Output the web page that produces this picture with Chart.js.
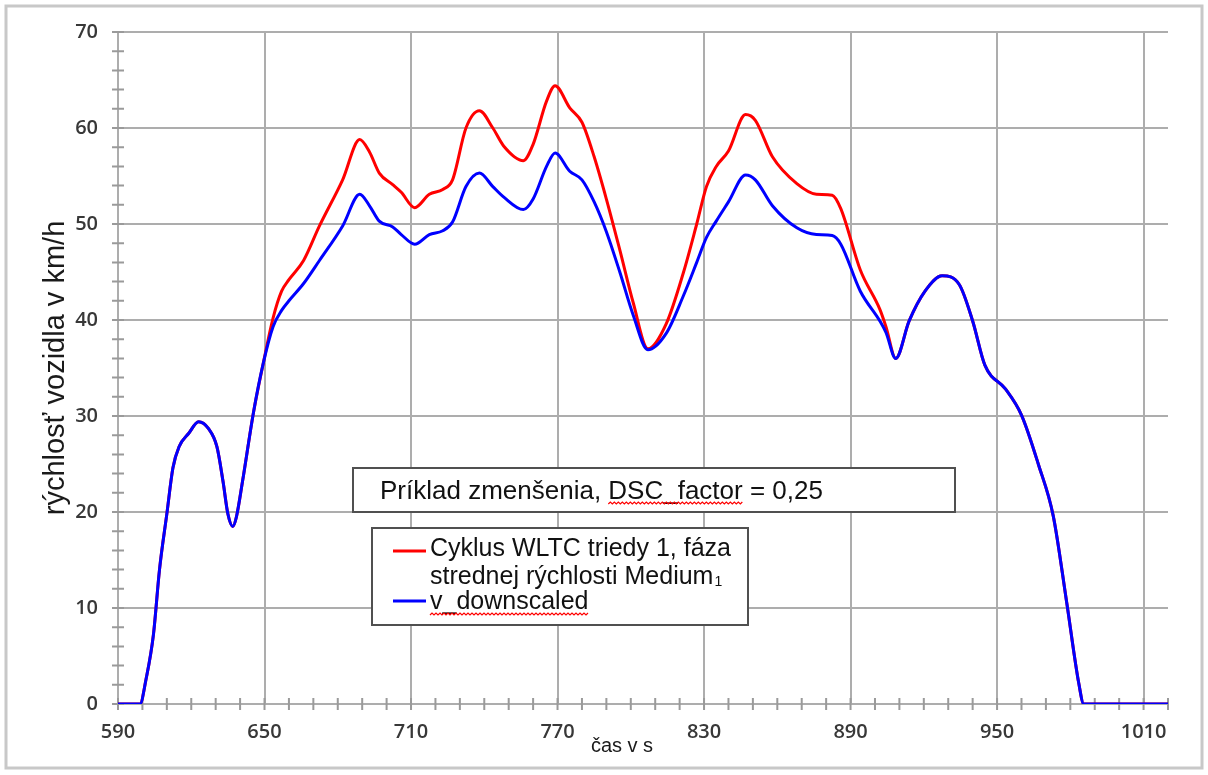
<!DOCTYPE html>
<html>
<head>
<meta charset="utf-8">
<script src="https://cdn.jsdelivr.net/npm/chart.js@4.4.1/dist/chart.umd.min.js"></script>
<style>
  html, body { margin: 0; padding: 0; background: #fff; }
  #wrap { width: 1208px; height: 775px; }
</style>
</head>
<body>
<div id="wrap"><canvas id="speedChart" width="1208" height="775"></canvas></div>
<script>
// time in s
var times = [590, 599, 601.5, 604.5, 607, 610, 612.5, 615, 619, 623, 627, 630.5, 633, 635, 637, 638.5, 641, 645.5, 649.5,
  653.5, 657, 660, 666, 672.5, 682, 689, 693, 697, 702.5, 706, 711.5, 717.5, 723, 727, 732.5, 738, 743.5, 748, 756, 760,
  765.5, 769, 775, 780, 785, 790, 795.5, 801, 807, 814.5, 821.5, 827, 831, 835, 840, 847, 851, 858, 868, 876, 882.5, 886,
  894, 902, 904.5, 908.5, 914, 920.5, 927.5, 934.5, 940, 945, 953.5, 960, 967, 973, 978.5, 983.5, 985.5, 1020];

// WLTC class 1, medium phase (km/h)
var speedWltc = [0, 0, 2.6, 7.2, 14, 19.8, 24.6, 26.8, 28.2, 29.4, 28.7, 26.8, 23.2, 19.8, 18.5, 19.5, 23.2, 30.4, 35.5,
  40.2, 43, 44.2, 46.2, 49.8, 54.6, 58.8, 57.5, 55.3, 54.1, 53.3, 51.7, 53.1, 53.6, 54.6, 60, 61.8, 60, 58.1, 56.6, 58.3,
  62.8, 64.4, 62.1, 60.6, 57, 52.6, 47.3, 41.8, 37, 39.6, 44.9, 50, 53.9, 56, 57.6, 61.4, 60.8, 57, 54.2, 53.1, 53, 51.6,
  45.2, 41.1, 39.3, 36, 39.9, 43, 44.6, 43.7, 39.9, 35.3, 32.8, 30.1, 24.9, 19.6, 10.6, 2.1, 0, 0];

// v_downscaled (km/h)
var speedDownscaled = [0, 0, 2.6, 7.2, 14, 19.8, 24.6, 26.8, 28.2, 29.4, 28.7, 26.8, 23.2, 19.8, 18.5, 19.5, 23.2, 30.4, 35.5,
  39.3, 41, 42, 43.8, 46.2, 49.8, 53.1, 51.9, 50.3, 49.7, 48.9, 47.9, 48.9, 49.3, 50.2, 53.9, 55.3, 53.9, 52.8, 51.5, 52.6,
  56, 57.4, 55.5, 54.6, 52.3, 49.2, 45, 40.5, 36.9, 38.6, 42.5, 46, 48.6, 50.3, 52.3, 55.1, 54.6, 51.9, 49.6, 48.9, 48.8, 47.9,
  43, 39.9, 38.7, 36, 39.9, 43, 44.6, 43.7, 39.9, 35.3, 32.8, 30.1, 24.9, 19.6, 10.6, 2.1, 0, 0];

var xTickLabels = [590, 650, 710, 770, 830, 890, 950, 1010];
var yTickLabels = [0, 10, 20, 30, 40, 50, 60, 70];

var labelWltc = ['Cyklus WLTC triedy 1, fáza', 'strednej rýchlosti Medium'];
var labelDown = 'v_downscaled';
var boxTitle = 'Príklad zmenšenia, DSC_factor = 0,25';
var xTitle = 'čas v s';
var yTitle = 'rýchlosť vozidla v km/h';

var RED = 'rgb(255, 0, 0)';
var BLUE = 'rgb(0, 0, 255)';
var GRID = '#adadad';
var TEXT_FONT = '"Liberation Sans", Arial, sans-serif';

function toPoints(vals) {
  return times.map(function (t, i) { return { x: t, y: vals[i] }; });
}

function wavy(ctx, x1, x2, y) {
  ctx.save();
  ctx.strokeStyle = RED;
  ctx.lineWidth = 1.2;
  ctx.beginPath();
  ctx.moveTo(x1, y);
  var up = true;
  for (var x = x1 + 2; x <= x2; x += 2) {
    ctx.lineTo(x, up ? y - 2 : y);
    up = !up;
  }
  ctx.stroke();
  ctx.restore();
}

var decor = {
  id: 'decor',
  beforeDraw: function (chart) {
    var ctx = chart.ctx;
    ctx.save();
    ctx.fillStyle = '#fff';
    ctx.fillRect(0, 0, chart.width, chart.height);
    ctx.strokeStyle = '#c8c8c8';
    ctx.lineWidth = 3;
    ctx.strokeRect(6, 6, 1196, 762);
    ctx.restore();
  },
  beforeDatasetsDraw: function (chart) {
    // small tick marks crossing the axes
    var ctx = chart.ctx, xs = chart.scales.x, ys = chart.scales.y;
    var a = chart.chartArea;
    ctx.save();
    ctx.strokeStyle = '#9a9a9a';
    ctx.lineWidth = 2;
    ctx.beginPath();
    for (var v = 0; v <= 70; v += 2) {
      var py = ys.getPixelForValue(v);
      ctx.moveTo(a.left - 6, py);
      ctx.lineTo(a.left + 6, py);
    }
    for (var t = 590; t <= 1020; t += 10) {
      var px = xs.getPixelForValue(t);
      ctx.moveTo(px, a.bottom - 6);
      ctx.lineTo(px, a.bottom + 6);
    }
    ctx.stroke();
    ctx.restore();
  },
  afterDraw: function (chart) {
    var ctx = chart.ctx;
    ctx.save();

    // axis titles
    ctx.fillStyle = '#1a1a1a';
    ctx.textAlign = 'center';
    ctx.textBaseline = 'middle';
    ctx.font = '29px ' + TEXT_FONT;
    ctx.translate(56, 368);
    ctx.rotate(-Math.PI / 2);
    ctx.fillText(yTitle, 0, 0);
    ctx.setTransform(1, 0, 0, 1, 0, 0);
    ctx.font = '20px ' + TEXT_FONT;
    ctx.fillText(xTitle, 622, 746);

    // title box
    ctx.fillStyle = '#fff';
    ctx.fillRect(353, 468, 602, 44);
    ctx.strokeStyle = '#505050';
    ctx.lineWidth = 2;
    ctx.strokeRect(353, 468, 602, 44);
    ctx.fillStyle = '#111';
    ctx.textAlign = 'left';
    ctx.textBaseline = 'alphabetic';
    ctx.font = '26px ' + TEXT_FONT;
    var tx = 380, ty = 499;
    ctx.fillText(boxTitle, tx, ty);
    var pre = ctx.measureText('Príklad zmenšenia, ').width;
    var word = ctx.measureText('DSC_factor').width;
    wavy(ctx, tx + pre, tx + pre + word, ty + 5);

    // legend box
    ctx.fillStyle = '#fff';
    ctx.fillRect(372, 528, 376, 97);
    ctx.strokeStyle = '#505050';
    ctx.strokeRect(372, 528, 376, 97);

    ctx.lineWidth = 3;
    ctx.strokeStyle = RED;
    ctx.beginPath(); ctx.moveTo(393, 551); ctx.lineTo(426, 551); ctx.stroke();
    ctx.strokeStyle = BLUE;
    ctx.beginPath(); ctx.moveTo(393, 601); ctx.lineTo(426, 601); ctx.stroke();

    ctx.fillStyle = '#111';
    ctx.font = '25px ' + TEXT_FONT;
    ctx.fillText(labelWltc[0], 430, 556);
    ctx.fillText(labelWltc[1], 430, 584);
    var w2 = ctx.measureText(labelWltc[1]).width;
    ctx.font = '14px ' + TEXT_FONT;
    ctx.fillText('1', 430 + w2 + 1, 586);
    ctx.font = '25px ' + TEXT_FONT;
    ctx.fillText(labelDown, 430, 609);
    wavy(ctx, 430, 430 + ctx.measureText(labelDown).width, 615);

    ctx.restore();
  }
};

var ctx = document.getElementById('speedChart').getContext('2d');

var speedChart = new Chart(ctx, {
  type: 'line',
  data: {
    datasets: [{
      label: labelWltc.join(' '),
      data: toPoints(speedWltc),
      borderColor: RED,
      borderWidth: 3,
      pointRadius: 0,
      fill: false,
      cubicInterpolationMode: 'monotone',
      order: 2
    }, {
      label: labelDown,
      data: toPoints(speedDownscaled),
      borderColor: BLUE,
      borderWidth: 3,
      pointRadius: 0,
      fill: false,
      cubicInterpolationMode: 'monotone',
      order: 1
    }]
  },
  options: {
    responsive: false,
    animation: false,
    devicePixelRatio: 1,
    layout: { padding: { top: 19, right: 40, bottom: 10, left: 10 } },
    plugins: {
      legend: { display: false },
      tooltip: { enabled: false },
      title: { display: false }
    },
    scales: {
      x: {
        type: 'linear',
        min: 590,
        max: 1020,
        afterBuildTicks: function (s) {
          s.ticks = xTickLabels.map(function (v) { return { value: v }; });
        },
        afterFit: function (s) { s.height = 61; },
        grid: { color: GRID, lineWidth: 2, drawTicks: false },
        border: { color: GRID, width: 2 },
        ticks: {
          padding: 16,
          autoSkip: false,
          maxRotation: 0,
          color: '#383838',
          font: { family: '"Open Sans", sans-serif', size: 20, weight: '600' },
          callback: function (v) { return String(v); }
        }
      },
      y: {
        min: 0,
        max: 70,
        afterBuildTicks: function (s) {
          s.ticks = yTickLabels.map(function (v) { return { value: v }; });
        },
        afterFit: function (s) { s.width = 108; },
        grid: { color: GRID, lineWidth: 2, drawTicks: false },
        border: { color: GRID, width: 2 },
        ticks: {
          padding: 20,
          color: '#383838',
          font: { family: '"Open Sans", sans-serif', size: 20, weight: '600' },
          callback: function (v) { return String(v); }
        }
      }
    }
  },
  plugins: [decor]
});
</script>
</body>
</html>
